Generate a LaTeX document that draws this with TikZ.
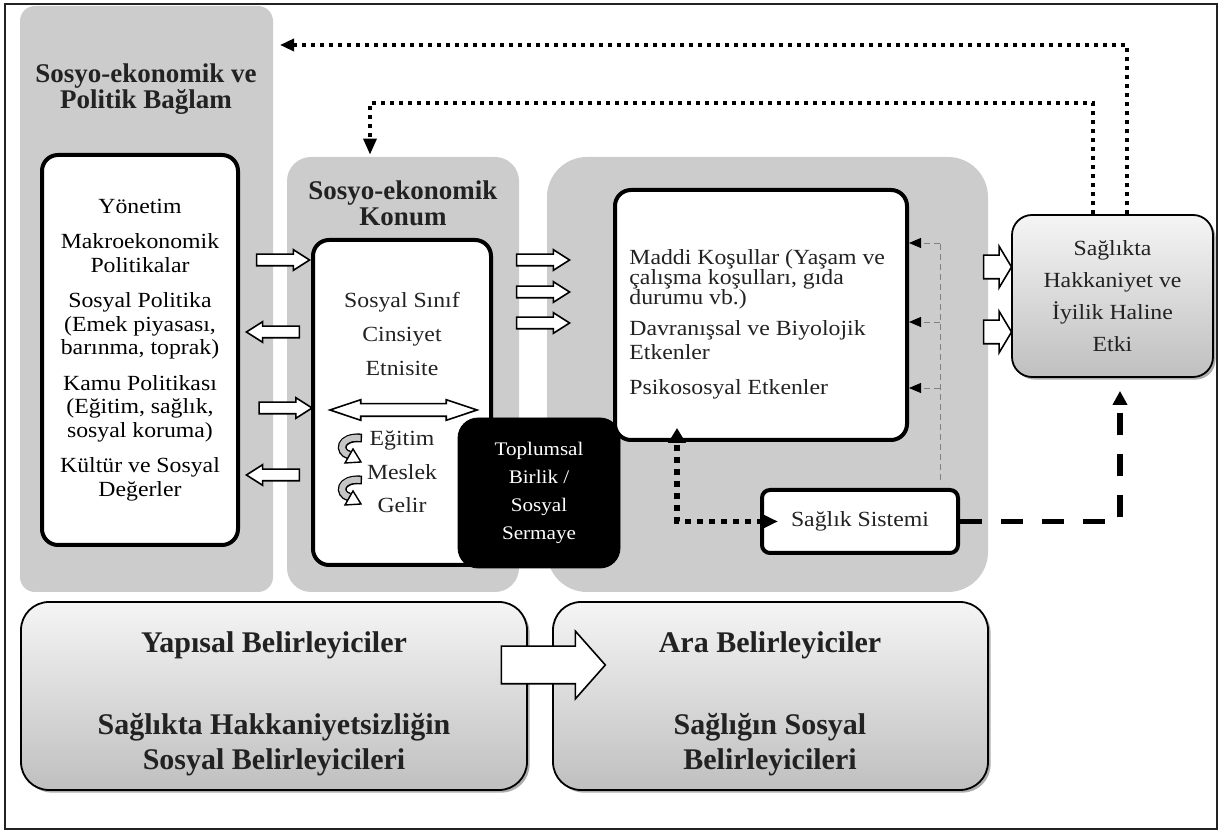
\documentclass[tikz,border=0pt]{standalone}
\usepackage{fontspec}
\setmainfont{Liberation Serif}
\newfontfamily\widefont{Liberation Serif}[FakeStretch=1.1]
\usetikzlibrary{shapes.arrows,arrows.meta,shadows}
\definecolor{panelgray}{HTML}{CCCCCC}
\definecolor{inkgray}{HTML}{222222}
\newcommand\bodytext{\widefont\fontsize{10.8}{11.75}\selectfont}
\newcommand\mattext{\widefont\fontsize{10.8}{10}\selectfont}
\newcommand\imptext{\widefont\fontsize{10.8}{16}\selectfont}
\newcommand\captext{\widefont\fontsize{9.6}{14}\selectfont}
\newcommand\headtext{\bfseries\fontsize{13.5}{13}\selectfont}
\newcommand\bigtext{\bfseries\fontsize{15}{17.5}\selectfont}
\tikzset{
  panel/.style={fill=panelgray, rounded corners=#1, inner sep=0pt},
  whitebox/.style={draw=black, fill=white, line width=2pt, rounded corners=8pt, inner sep=0pt, align=center, font=\bodytext},
  shadebox/.style={draw=black, line width=0.9pt, rounded corners=#1, top color=gray!8, bottom color=gray!50,
    drop shadow={shadow xshift=1.3pt, shadow yshift=-1.3pt, opacity=0.8, fill=gray!80}},
  bodynode/.style={inner sep=0pt, align=center, font=\bodytext, text=inkgray},
  head/.style={inner sep=0pt, align=center, font=\headtext, text=inkgray},
  bighead/.style={inner sep=0pt, align=center, font=\bigtext, text=inkgray},
  barrow/.style={single arrow, draw=black, fill=white, line width=0.8pt, inner xsep=0pt, inner ysep=2.5pt,
    single arrow head extend=2.25pt, single arrow tip angle=65, minimum height=26.5pt},
  topdots/.style={line width=1.7pt, dash pattern=on 2pt off 2.5pt},
  thickdots/.style={line width=2.7pt, dash pattern=on 3pt off 3pt},
  dashes/.style={line width=2.7pt, dash pattern=on 11pt off 9.5pt},
  feedline/.style={line width=0.4pt, gray, densely dashed},
  curl/.pic={
    \draw[line width=4.4pt] (23,6) .. controls (0,4) and (-1,20) .. (10,23);
    \draw[line width=3pt, gray!45, shorten <=0.7pt] (23,6) .. controls (0,4) and (-1,20) .. (10,23);
    \filldraw[fill=white, line width=0.7pt] (6,31) -- (22,30) -- (14,17) -- cycle;
  }
}
\begin{document}
\begin{tikzpicture}[x=0.5pt, y=-0.5pt]
\useasboundingbox (0,0) rectangle (1223,833);
\draw[line width=1.2pt, inkgray] (5,4) rectangle (1217,829);
% grey panels
\node[panel=7.5pt, minimum width=126.5pt, minimum height=293pt] (ctx) at (146.5,299) {};
\node[panel=12pt, minimum width=116pt, minimum height=217.5pt] (pos) at (403,374.5) {};
\node[panel=20pt, minimum width=220.5pt, minimum height=217.5pt] (mid) at (767.5,374.5) {};
\node[head] (ctxhead) at (146,89) {Sosyo-ekonomik ve\\Politik Bağlam};
\node[head] (poshead) at (403,203) {Sosyo-ekonomik\\Konum};
% structural side
\node[whitebox, minimum width=98pt, minimum height=195pt] (gov) at (140,350) {Yönetim\\[6pt]Makroekonomik\\Politikalar\\[6pt]Sosyal Politika\\(Emek piyasası,\\barınma, toprak)\\[6pt]Kamu Politikası\\(Eğitim, sağlık,\\sosyal koruma)\\[6pt]Kültür ve Sosyal\\Değerler};
\node[whitebox, minimum width=89pt, minimum height=162.5pt] (cls) at (402,402.5) {};
\node[bodynode] (clstop) at (402,334) {Sosyal Sınıf\\[5.25pt]Cinsiyet\\[5.25pt]Etnisite};
\node[double arrow, draw=black, fill=white, line width=0.8pt, inner xsep=0pt, inner ysep=2.75pt,
  double arrow head extend=2pt, double arrow tip angle=37, minimum height=73.5pt] (clsarrow) at (403.5,410) {};
\pic at (339,432) {curl};
\pic at (339,474) {curl};
\node[bodynode] (clsbot) at (402,472) {Eğitim\\[5pt]Meslek\\[5pt]Gelir};
\node[draw=black, fill=black, text=white, rounded corners=10pt, minimum width=81pt, minimum height=75pt,
  inner sep=0pt, align=center, font=\captext] (cap) at (539,493) {Toplumsal\\Birlik /\\Sosyal\\Sermaye};
\node[barrow] (la1) at (278.5,260) {};
\node[barrow, shape border rotate=180] (la2) at (277.5,332) {};
\node[barrow] (la3) at (281,408) {};
\node[barrow, shape border rotate=180] (la4) at (277.5,475) {};
\foreach \yy [count=\i] in {260,292,323}
  \node[barrow] (ma\i) at (538.5,\yy) {};
% intermediary side
\node[whitebox, minimum width=146pt, minimum height=125pt] (mat) at (761,315) {};
\node[bodynode, anchor=west, align=left, font=\mattext] (mattxt) at (629,324) {Maddi Koşullar (Yaşam ve\\çalışma koşulları, gıda\\durumu vb.)\\[5.5pt]Davranışsal ve Biyolojik\\[2pt]Etkenler\\[7.5pt]Psikososyal Etkenler};
\node[whitebox, rounded corners=4pt, minimum width=98pt, minimum height=31.5pt, text=inkgray] (hs) at (860,521.5) {Sağlık Sistemi};
\node[shadebox=10pt, minimum width=100.5pt, minimum height=81pt, align=center, font=\imptext, text=inkgray] (imp) at (1112.5,296) {Sağlıkta\\Hakkaniyet ve\\İyilik Haline\\Etki};
\node[barrow, inner ysep=5.5pt, single arrow head extend=4.5pt, single arrow tip angle=118, minimum height=14pt] (ra1) at (994,267) {};
\node[barrow, inner ysep=5.5pt, single arrow head extend=4.5pt, single arrow tip angle=118, minimum height=14pt] (ra2) at (994,332) {};
% bottom captions
\node[shadebox=14pt, minimum width=253pt, minimum height=94pt] (str) at (274,696) {};
\node[bighead] (strtxt) at (274,704) {Yapısal Belirleyiciler\\[23.5pt]Sağlıkta Hakkaniyetsizliğin\\Sosyal Belirleyicileri};
\node[shadebox=14pt, minimum width=217.5pt, minimum height=94pt] (itm) at (770.5,696) {};
\node[bighead] (itmtxt) at (770,704) {Ara Belirleyiciler\\[23.5pt]Sağlığın Sosyal\\Belirleyicileri};
\node[barrow, inner ysep=9pt, single arrow head extend=7.5pt, single arrow tip angle=97, minimum height=52pt] (bigarrow) at (545,665) {};
% feedback lines
\coordinate (outerstart) at ([xshift=7.25pt]imp.north);
\coordinate (innerstart) at ([xshift=-9.75pt]imp.north);
\coordinate (outerend) at (280,45);
\coordinate (midrow) at (0,103);
\coordinate (innerdrop) at ([xshift=-16.5pt]pos.north);
\draw[topdots, -{Triangle[length=7pt,width=6pt]}] (outerstart) |- (outerend);
\draw[topdots, -{Triangle[length=8pt,width=6.5pt]}, shorten >=1pt] (innerstart) |- (innerdrop |- midrow) -- (innerdrop);
\coordinate (matfoot) at ([xshift=-42pt]mat.south);
\draw[thickdots, {Triangle[length=8pt,width=7pt]}-{Triangle[length=7.5pt,width=8.5pt]}, shorten <=-9pt, shorten >=-7pt] (hs.west) -| (matfoot);
\coordinate (impfoot) at ([xshift=3.75pt]imp.south);
\draw[dashes, -{Triangle[length=7pt,width=7pt]}, shorten >=6.5pt] (hs.east) -| (impfoot);
\coordinate (feedfoot) at ([xshift=40pt,yshift=4pt]hs.north);
\foreach \yy in {243,322,388}{
  \coordinate (feed\yy) at (0,\yy);
  \draw[feedline, -{Triangle[length=6pt,width=5pt,color=black]}] (feedfoot |- feed\yy) -- (mat.east |- feed\yy);
}
\draw[feedline] (feedfoot) -- (feedfoot |- feed243);
\end{tikzpicture}
\end{document}
